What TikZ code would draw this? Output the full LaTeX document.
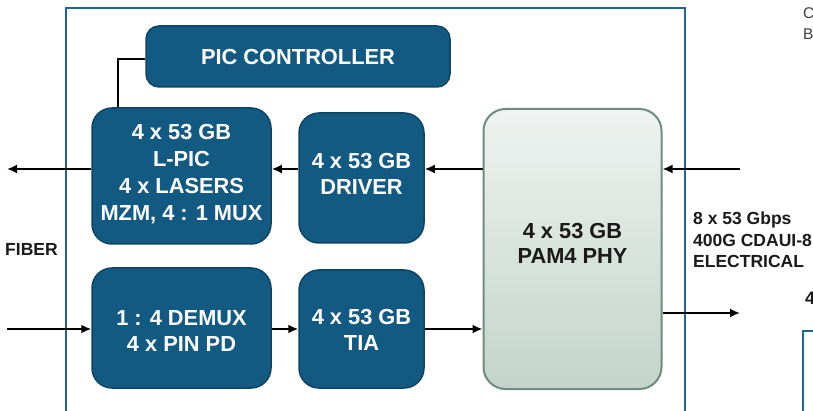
\documentclass[tikz,border=0pt]{standalone}
\usepackage{fontspec}
\setmainfont{Liberation Sans}
\usetikzlibrary{arrows.meta}
\definecolor{boxblue}{HTML}{135A83}
\definecolor{boxedge}{HTML}{0C4465}
\definecolor{framec}{HTML}{1F679B}
\definecolor{phytop}{HTML}{EFF3F1}
\definecolor{phybot}{HTML}{C3D4CB}
\definecolor{phyedge}{HTML}{6E8C7F}
\definecolor{ink}{HTML}{1A1A1A}
\tikzset{
  bluebox/.style={draw=boxedge, fill=boxblue, line width=1.5pt, rounded corners=20pt, inner sep=0pt},
  boxtext/.style={text=white, font=\bfseries\fontsize{21.8}{26}\selectfont, align=center, inner sep=0pt},
  phybox/.style={draw=phyedge, line width=2pt, top color=phytop, bottom color=phybot, rounded corners=22pt, inner sep=0pt},
  phytext/.style={text=ink, font=\bfseries\fontsize{21.8}{25}\selectfont, align=center, inner sep=0pt},
  lbl/.style={text=ink, font=\bfseries\fontsize{17.5}{21.5}\selectfont, align=left, inner sep=0pt},
  arr/.style={draw=black, line width=1.8pt, -{Latex[length=10pt,width=9pt]}},
  conn/.style={draw=black, line width=1.6pt},
  framebox/.style={draw=framec, line width=2pt}
}
\begin{document}
\begin{tikzpicture}[x=1pt,y=-1pt]
\useasboundingbox (0,0) rectangle (813,411);
\clip (0,0) rectangle (813,411);
\fill[white] (0,0) rectangle (813,411);
% outer frame
\draw[framebox] (66,8) rectangle (685,440);
\draw[framebox] (803,331) rectangle (840,440);
% boxes
\node[bluebox, rounded corners=13pt, minimum width=304pt, minimum height=61pt] (ctrl) at (298,56.5) {};
\node[boxtext] (ctrlT) at (298,57) {PIC CONTROLLER};
\node[bluebox, minimum width=179pt, minimum height=136pt] (lpic) at (181.5,176) {};
\node[boxtext, font=\bfseries\fontsize{21.8}{27}\selectfont] (lpicT) at (181.5,174.5) {4 x 53 GB\\L-PIC\\4 x LASERS\\MZM, 4 : 1 MUX};
\node[bluebox, minimum width=125pt, minimum height=130pt] (driver) at (361.5,178) {};
\node[boxtext] (driverT) at (361.5,173.5) {4 x 53 GB\\DRIVER};
\node[bluebox, minimum width=179pt, minimum height=120pt] (demux) at (181.5,328) {};
\node[boxtext] (demuxT) at (181.5,331) {1 : 4 DEMUX\\4 x PIN PD};
\node[bluebox, minimum width=125pt, minimum height=118pt] (tia) at (361.5,329) {};
\node[boxtext] (tiaT) at (361.5,329.5) {4 x 53 GB\\TIA};
\node[phybox, minimum width=178pt, minimum height=280pt] (phy) at (572.5,249) {};
\node[phytext] (phyT) at (572.5,243.5) {4 x 53 GB\\PAM4 PHY};
% connector endpoints
\coordinate (inR) at (740,169);
\coordinate (outL) at (7,169);
\coordinate (inL) at (7,329);
\coordinate (outR) at (740,313);
\coordinate (cj) at (118,59);
% connectors
\draw[conn] (ctrl.west |- cj) -| (lpic.north -| cj);
\draw[arr] (inR) -- (inR -| phy.east);
\draw[arr] (phy.west |- inR) -- (driver.east |- inR);
\draw[arr] (driver.west |- inR) -- (lpic.east |- inR);
\draw[arr] (lpic.west |- inR) -- (outL);
\draw[arr] (inL) -- (inL -| demux.west);
\draw[arr] (demux.east |- inL) -- (tia.west |- inL);
\draw[arr] (tia.east |- inL) -- (phy.west |- inL);
\draw[arr] (phy.east |- outR) -- (outR);
% labels
\node[lbl, anchor=west] (fiber) at (5,249) {FIBER};
\node[lbl, anchor=west] (elec) at (693,240) {8 x 53 Gbps\\400G CDAUI-8\\ELECTRICAL};
\node[anchor=west, inner sep=0pt, text=black!75, font=\fontsize{15.5}{18}\selectfont] (tc) at (803,13) {C};
\node[anchor=west, inner sep=0pt, text=black!75, font=\fontsize{15.5}{18}\selectfont] (tb) at (803,34) {B};
\node[anchor=west, inner sep=0pt, text=ink, font=\bfseries\fontsize{18}{20}\selectfont] (t4) at (805,298) {4};
\end{tikzpicture}
\end{document}
